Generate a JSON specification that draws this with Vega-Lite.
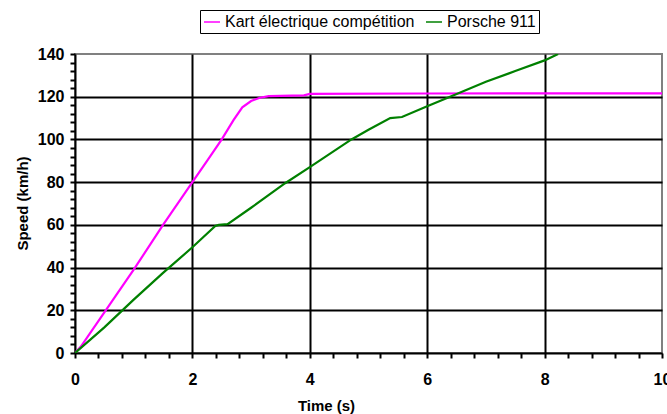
{
  "$schema": "https://vega.github.io/schema/vega-lite/v6.json",
  "width": 587,
  "height": 299,
  "autosize": {"type": "none"},
  "padding": {"left": 75, "top": 54, "right": 5, "bottom": 61},
  "background": "white",
  "config": {
    "view": {"stroke": "#808080", "strokeWidth": 2},
    "font": "Liberation Sans"
  },
  "data": {
    "values": [
      {"series": "Kart électrique compétition", "t": 0, "v": 0},
      {"series": "Kart électrique compétition", "t": 0.1, "v": 3},
      {"series": "Kart électrique compétition", "t": 0.5, "v": 19},
      {"series": "Kart électrique compétition", "t": 1.0, "v": 39},
      {"series": "Kart électrique compétition", "t": 1.5, "v": 60},
      {"series": "Kart électrique compétition", "t": 2.0, "v": 80},
      {"series": "Kart électrique compétition", "t": 2.25, "v": 90},
      {"series": "Kart électrique compétition", "t": 2.5, "v": 100},
      {"series": "Kart électrique compétition", "t": 2.7, "v": 109},
      {"series": "Kart électrique compétition", "t": 2.85, "v": 115},
      {"series": "Kart électrique compétition", "t": 3.0, "v": 118},
      {"series": "Kart électrique compétition", "t": 3.15, "v": 119.5},
      {"series": "Kart électrique compétition", "t": 3.3, "v": 120.3},
      {"series": "Kart électrique compétition", "t": 3.9, "v": 120.6},
      {"series": "Kart électrique compétition", "t": 4.0, "v": 121.3},
      {"series": "Kart électrique compétition", "t": 6.0, "v": 121.5},
      {"series": "Kart électrique compétition", "t": 10.0, "v": 121.6},
      {"series": "Porsche 911", "t": 0, "v": 0},
      {"series": "Porsche 911", "t": 0.5, "v": 12},
      {"series": "Porsche 911", "t": 1.0, "v": 25},
      {"series": "Porsche 911", "t": 1.5, "v": 37.5},
      {"series": "Porsche 911", "t": 2.0, "v": 49.5},
      {"series": "Porsche 911", "t": 2.39, "v": 59.5},
      {"series": "Porsche 911", "t": 2.45, "v": 60},
      {"series": "Porsche 911", "t": 2.6, "v": 60.3},
      {"series": "Porsche 911", "t": 3.0, "v": 68},
      {"series": "Porsche 911", "t": 3.58, "v": 79.5},
      {"series": "Porsche 911", "t": 4.0, "v": 87},
      {"series": "Porsche 911", "t": 4.71, "v": 100},
      {"series": "Porsche 911", "t": 5.0, "v": 104.5},
      {"series": "Porsche 911", "t": 5.37, "v": 110},
      {"series": "Porsche 911", "t": 5.57, "v": 110.5},
      {"series": "Porsche 911", "t": 6.0, "v": 115.5},
      {"series": "Porsche 911", "t": 6.39, "v": 120},
      {"series": "Porsche 911", "t": 7.0, "v": 127},
      {"series": "Porsche 911", "t": 7.5, "v": 132},
      {"series": "Porsche 911", "t": 8.0, "v": 137},
      {"series": "Porsche 911", "t": 8.23, "v": 140}
    ]
  },
  "mark": {"type": "line", "strokeWidth": 2.2, "clip": true},
  "encoding": {
    "x": {
      "field": "t",
      "type": "quantitative",
      "scale": {"domain": [0, 10], "nice": false, "zero": true},
      "axis": {
        "title": "Time (s)",
        "values": [0,0.4,0.8,1.2,1.6,2,2.4,2.8,3.2,3.6,4,4.4,4.8,5.2,5.6,6,6.4,6.8,7.2,7.6,8,8.4,8.8,9.2,9.6,10],
        "labelExpr": "abs(datum.value - round(datum.value/2)*2) < 0.01 ? format(datum.value, 'd') : ''",
        "labelOverlap": false,
        "labelBound": false,
        "labelFlush": false,
        "labelFontSize": 16,
        "labelFontWeight": "bold",
        "labelColor": "black",
        "labelPadding": 13,
        "tickSize": 5,
        "tickColor": "black",
        "tickWidth": 2,
        "domainColor": "black",
        "domainWidth": 2,
        "grid": true,
        "gridColor": "black",
        "gridWidth": 2,
        "gridOpacity": {"condition": {"test": "abs(datum.value - round(datum.value/2)*2) < 0.01 && datum.value > 0.01 && datum.value < 9.99", "value": 1}, "value": 0},
        "titleFontSize": 15,
        "titleFontWeight": "bold",
        "titleColor": "black",
        "titleX": 251,
        "titleY": 57,
        "titleAlign": "center",
        "titleBaseline": "alphabetic"
      }
    },
    "y": {
      "field": "v",
      "type": "quantitative",
      "scale": {"domain": [0, 140], "nice": false},
      "axis": {
        "title": "Speed (km/h)",
        "values": [0,4,8,12,16,20,24,28,32,36,40,44,48,52,56,60,64,68,72,76,80,84,88,92,96,100,104,108,112,116,120,124,128,132,136,140],
        "labelExpr": "datum.value % 20 === 0 ? datum.label : ''",
        "labelOverlap": false,
        "labelBound": false,
        "labelFlush": false,
        "labelFontSize": 16,
        "labelFontWeight": "bold",
        "labelColor": "black",
        "labelPadding": 6,
        "tickSize": 5,
        "tickColor": "black",
        "tickWidth": 2,
        "domainColor": "black",
        "domainWidth": 2,
        "grid": true,
        "gridColor": "black",
        "gridWidth": 2,
        "gridOpacity": {"condition": {"test": "datum.value % 20 === 0 && datum.value > 0 && datum.value < 140", "value": 1}, "value": 0},
        "titleFontSize": 15,
        "titleFontWeight": "bold",
        "titleColor": "black",
        "titleX": -53,
        "titleY": 149,
        "titleAngle": -90,
        "titleAlign": "center",
        "titleBaseline": "middle"
      }
    },
    "color": {
      "field": "series",
      "type": "nominal",
      "scale": {"domain": ["Kart électrique compétition", "Porsche 911"], "range": ["#ff00ff", "#008000"]},
      "legend": {
        "title": null,
        "orient": "none",
        "direction": "horizontal",
        "legendX": 125,
        "legendY": -44,
        "strokeColor": "black",
        "padding": 3,
        "symbolType": "stroke",
        "symbolSize": 256,
        "symbolStrokeWidth": 1.5,
        "labelFontSize": 16,
        "labelColor": "black",
        "labelOffset": 4,
        "columnPadding": 8,
        "labelLimit": 400
      }
    }
  }
}
